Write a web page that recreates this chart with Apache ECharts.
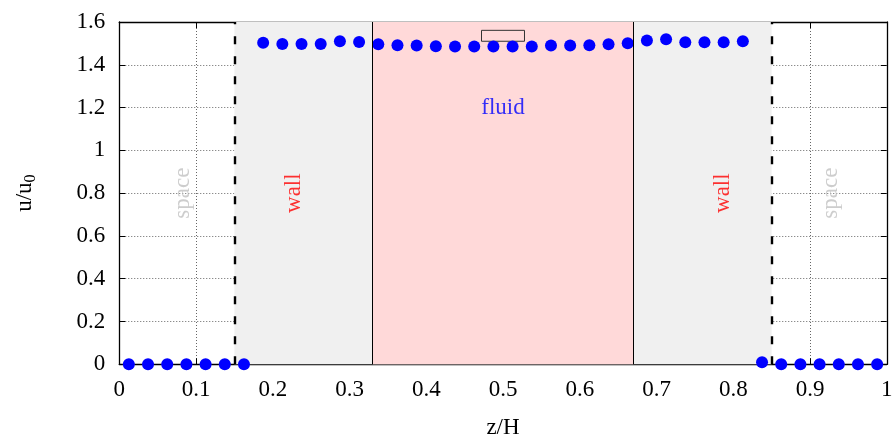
<!DOCTYPE html>
<html>
<head>
<meta charset="utf-8">
<script src="https://cdn.jsdelivr.net/npm/echarts@6/dist/echarts.min.js"></script>
<style>html,body{margin:0;padding:0;background:#fff}#c{width:892px;height:437px}</style>
</head>
<body>
<div id="c"></div>
<script>
// ---- data ----
var zValues = [0.0125,0.0375,0.0625,0.0875,0.1125,0.1375,0.1625,0.1875,0.2125,0.2375,
               0.2625,0.2875,0.3125,0.3375,0.3625,0.3875,0.4125,0.4375,0.4625,0.4875,
               0.5125,0.5375,0.5625,0.5875,0.6125,0.6375,0.6625,0.6875,0.7125,0.7375,
               0.7625,0.7875,0.8125,0.8375,0.8625,0.8875,0.9125,0.9375,0.9625,0.9875];
var uValues = [0,0,0,0,0,0,0,1.503,1.497,1.497,
               1.497,1.510,1.507,1.496,1.491,1.490,1.487,1.485,1.485,1.485,
               1.485,1.485,1.490,1.490,1.491,1.496,1.501,1.513,1.519,1.505,
               1.505,1.505,1.510,0.010,0,0,0,0,0,0];
var wallRegion = [0.15, 0.85];
var fluidRegion = [0.33, 0.67];
var keyBox = [[0.472, 1.510], [0.528, 1.561]];
var textLabels = [
  {name: 'space', x: 0.083, y: 0.80, color: '#c0c0c0'},
  {name: 'wall',  x: 0.228, y: 0.80, color: '#ff0000'},
  {name: 'fluid', x: 0.50,  y: 1.20, color: '#0000ff', horizontal: true},
  {name: 'wall',  x: 0.787, y: 0.80, color: '#ff0000'},
  {name: 'space', x: 0.927, y: 0.80, color: '#c0c0c0'}
];
var xTicks = {min: 0, max: 1, interval: 0.1};
var yTicks = {min: 0, max: 1.6, interval: 0.2};

// ---- chart ----
var FONT = '"Liberation Serif", "DejaVu Serif", serif';
var FS = 23;
var chart = echarts.init(document.getElementById('c'), null, {renderer: 'canvas'});
var points = zValues.map(function (z, i) { return [z, uValues[i]]; });

var gridDotted = {show: true, lineStyle: {color: '#666', width: 1, type: [1, 2]}};
var axLine = {show: true, onZero: false, lineStyle: {color: '#000', width: 1.3}};
var axTick = {show: true, inside: true, length: 6, lineStyle: {color: '#000', width: 1}};
var lbl = {color: '#000', fontFamily: FONT, fontSize: FS};

var option = {
  animation: false,
  backgroundColor: '#fff',
  grid: {left: 119.25, right: 5.25, top: 22, bottom: 72.7, containLabel: false, outerBoundsMode: 'none'},
  xAxis: [
    {type: 'value', position: 'bottom', min: xTicks.min, max: xTicks.max, interval: xTicks.interval,
     axisLine: axLine, axisTick: axTick, splitLine: gridDotted,
     axisLabel: Object.assign({margin: 14}, lbl),
     name: 'z/H', nameLocation: 'middle', nameGap: 52,
     nameTextStyle: {color: '#000', fontFamily: FONT, fontSize: FS}},
    {type: 'value', position: 'top', min: xTicks.min, max: xTicks.max, interval: xTicks.interval,
     axisLine: axLine, axisTick: axTick, splitLine: {show: false}, axisLabel: {show: false}}
  ],
  yAxis: [
    {type: 'value', position: 'left', min: yTicks.min, max: yTicks.max, interval: yTicks.interval,
     axisLine: axLine, axisTick: axTick, splitLine: gridDotted,
     axisLabel: Object.assign({margin: 14}, lbl),
     name: '{a|u/u}{b|0}', nameLocation: 'middle', nameGap: 80, nameRotate: 90,
     nameTextStyle: {color: '#000', fontFamily: FONT,
       rich: {a: {fontFamily: FONT, fontSize: FS, color: '#000', lineHeight: 28},
              b: {fontFamily: FONT, fontSize: 16, color: '#000', lineHeight: 28, verticalAlign: 'bottom', padding: [8, 0, 0, 0]}}}},
    {type: 'value', position: 'right', min: yTicks.min, max: yTicks.max, interval: yTicks.interval,
     axisLine: axLine, axisTick: axTick, splitLine: {show: false}, axisLabel: {show: false}}
  ],
  series: [
    {type: 'line', data: [], z: 1, silent: true,
     markArea: {silent: true, itemStyle: {color: '#f0f0f0'},
       data: [[{xAxis: wallRegion[0], yAxis: yTicks.min}, {xAxis: wallRegion[1], yAxis: yTicks.max}]]}},
    {type: 'line', data: [], z: 1.5, silent: true,
     markArea: {silent: true, itemStyle: {color: '#ffd9d9'},
       data: [[{xAxis: fluidRegion[0], yAxis: yTicks.min}, {xAxis: fluidRegion[1], yAxis: yTicks.max}]]},
     markLine: {silent: true, symbol: 'none', label: {show: false},
       lineStyle: {color: '#000', width: 1, type: 'solid'},
       data: [{xAxis: fluidRegion[0]}, {xAxis: fluidRegion[1]}]}},
    {type: 'line', data: [], z: 1.6, silent: true,
     markLine: {silent: true, symbol: 'none', label: {show: false},
       lineStyle: {color: '#000', width: 2.4, type: [8, 12]},
       data: [{xAxis: wallRegion[0]}, {xAxis: wallRegion[1]}]},
     markArea: {silent: true, itemStyle: {color: 'rgba(0,0,0,0)', borderColor: '#333', borderWidth: 1},
       data: [[{coord: keyBox[0]}, {coord: keyBox[1]}]]}},
    {type: 'scatter', data: points, z: 3, symbol: 'circle', symbolSize: 12,
     itemStyle: {color: '#0000ff', opacity: 1}},
    {type: 'scatter', z: 4, symbolSize: 0, silent: true,
     data: textLabels.map(function (t) {
       return {name: t.name, value: [t.x, t.y],
         label: {show: true, position: 'inside', formatter: '{b}', rotate: t.horizontal ? 0 : 90,
           color: t.color, fontFamily: FONT, fontSize: FS}};
     })}
  ]
};
chart.setOption(option);
</script>
</body>
</html>
